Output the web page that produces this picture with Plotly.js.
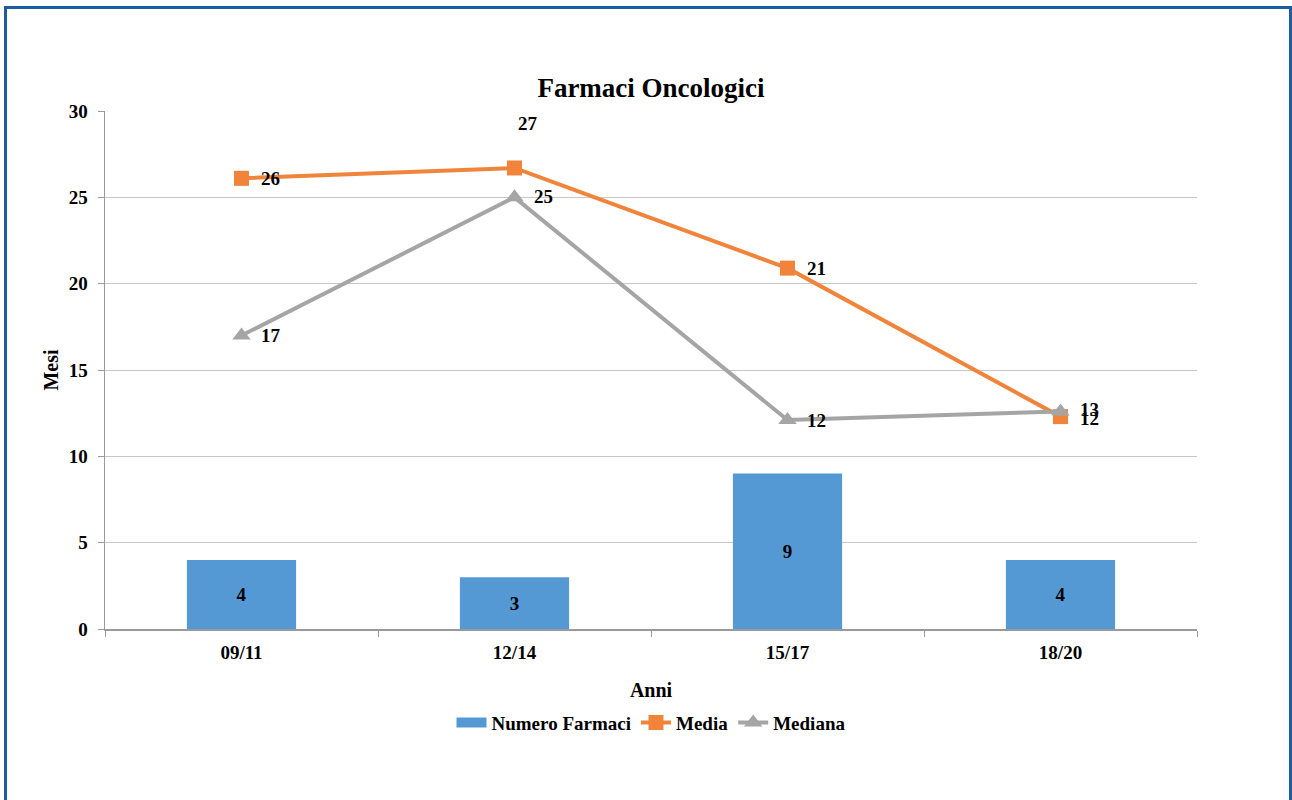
<!DOCTYPE html>
<html>
<head>
<meta charset="utf-8">
<script src="https://cdn.plot.ly/plotly-3.0.1.min.js"></script>
<style>
html,body{margin:0;padding:0;background:#fff;}
#frame{position:absolute;left:4px;top:6px;width:1288px;height:800px;border:3px solid #1e5d9b;box-sizing:border-box;pointer-events:none;z-index:10;}
#chart{position:absolute;left:0;top:0;width:1292px;height:800px;}
</style>
</head>
<body>
<div id="chart"></div>
<div id="frame"></div>
<script>
const categories = ["09/11", "12/14", "15/17", "18/20"];
const numeroFarmaci = [4, 3, 9, 4];
const media = [26.1, 26.7, 20.9, 12.3];
const mediana = [17.0, 25.0, 12.1, 12.6];

const FONT = "Liberation Serif, Times New Roman, serif";
const BLUE = "#5499d4", ORANGE = "#f0843a", GRAY = "#a5a5a5";
const labelFont = {family: FONT, size: 19, color: "#000", weight: "bold"};

// label placement style (pixels), per point
const mediaLabelStyle = [
  {xanchor: "left", xshift: 17, yshift: 0},
  {xanchor: "center", xshift: 13, yshift: 44},
  {xanchor: "left", xshift: 17, yshift: 0},
  {xanchor: "left", xshift: 17, yshift: -2}
];
const medianaLabelStyle = [
  {xanchor: "left", xshift: 17, yshift: 0},
  {xanchor: "left", xshift: 17, yshift: 1},
  {xanchor: "left", xshift: 17, yshift: 0},
  {xanchor: "left", xshift: 17, yshift: 2}
];

function labels(vals, style) {
  return vals.map((v, i) => Object.assign({
    x: categories[i], y: v, xref: "x", yref: "y",
    text: String(Math.round(v)), showarrow: false,
    yanchor: "middle", font: labelFont
  }, style[i]));
}

const traces = [
  {
    type: "scatter", mode: "lines", name: "Numero Farmaci", x: [null], y: [null],
    line: {color: BLUE, width: 12}, hoverinfo: "skip"
  },
  {
    type: "bar", name: "Numero Farmaci", x: categories, y: numeroFarmaci,
    width: 0.4, showlegend: false,
    marker: {color: BLUE, line: {width: 0}},
    text: numeroFarmaci.map(String), textposition: "inside", insidetextanchor: "middle",
    textfont: labelFont, hoverinfo: "skip"
  },
  {
    type: "scatter", mode: "lines+markers", name: "Media", x: categories, y: media,
    line: {color: ORANGE, width: 4},
    marker: {symbol: "square", size: 15, color: ORANGE},
    hoverinfo: "skip"
  },
  {
    type: "scatter", mode: "lines+markers", name: "Mediana", x: categories, y: mediana,
    line: {color: GRAY, width: 4},
    marker: {symbol: "triangle-up", size: 16, color: GRAY},
    hoverinfo: "skip"
  }
];

const layout = {
  width: 1292, height: 800,
  margin: {l: 105, r: 95, t: 111, b: 171},
  paper_bgcolor: "#fff", plot_bgcolor: "#fff",
  font: {family: FONT, size: 19, color: "#000", weight: "bold"},
  title: {text: "Farmaci Oncologici", font: {family: FONT, size: 27, color: "#000", weight: "bold"},
          x: 0.5, xref: "paper", xanchor: "center", y: 1 - 88/800, yref: "container", yanchor: "middle"},
  showlegend: true,
  legend: {orientation: "h", x: 0.5, xanchor: "center", y: -0.181, yanchor: "middle",
           font: {family: FONT, size: 19, color: "#000", weight: "bold"}, traceorder: "normal",
           itemwidth: 30},
  xaxis: {
    type: "category", range: [-0.5, 3.5],
    showline: true, linecolor: "#9a9a9a", linewidth: 1.5,
    ticks: "outside", tickson: "boundaries", ticklen: 6, tickcolor: "#9a9a9a",
    ticklabelstandoff: 6,
    showgrid: false, zeroline: false,
    tickfont: {family: FONT, size: 19, color: "#000", weight: "bold"},
    title: {text: "Anni", standoff: 20, font: {family: FONT, size: 20, color: "#000", weight: "bold"}}
  },
  yaxis: {
    range: [0, 30], dtick: 5,
    showline: true, linecolor: "#9a9a9a", linewidth: 1.5,
    ticks: "outside", ticklen: 6, tickcolor: "#9a9a9a",
    ticklabelstandoff: 6,
    showgrid: true, gridcolor: "#c8c8c8", gridwidth: 1, zeroline: false,
    tickfont: {family: FONT, size: 19, color: "#000", weight: "bold"},
    title: {text: "Mesi", standoff: 4, font: {family: FONT, size: 20, color: "#000", weight: "bold"}}
  },
  annotations: labels(media, mediaLabelStyle).concat(labels(mediana, medianaLabelStyle)),
  bargap: 0.6, hovermode: false
};

Plotly.newPlot("chart", traces, layout, {displayModeBar: false, staticPlot: true});
</script>
</body>
</html>
